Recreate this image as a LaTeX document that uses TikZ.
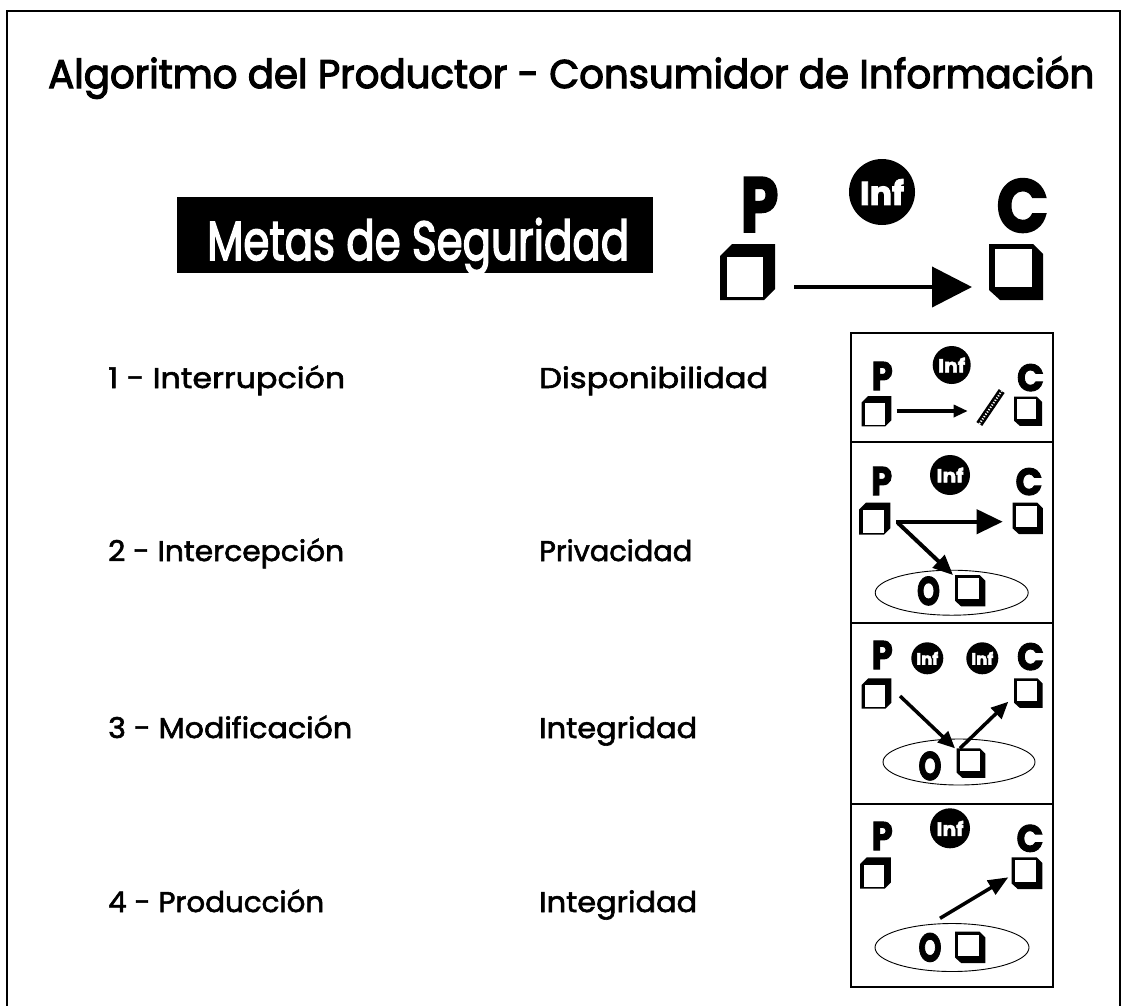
\documentclass[tikz,border=0pt]{standalone}
\usepackage{fontspec}
\setmainfont{Poppins}
\newfontfamily\medfont{Poppins}[FakeBold=3]
\newfontfamily\bookfont{Poppins}[FakeBold=2]
\newfontfamily\heavyfont{Poppins}[FakeBold=2.5]
\usetikzlibrary{arrows.meta,shapes.geometric}
\newcommand{\listfont}{\bookfont\fontsize{28.6}{30}\selectfont}
% list text fitted to a width w
\newcommand{\listtxt}[2]{\resizebox{#1pt}{\height}{\listfont #2}}
% glyph fitted to a box width w at font size s
\newcommand{\glyph}[3]{\resizebox{#1pt}{\height}{\heavyfont\bfseries\fontsize{#2}{#2}\selectfont #3}}
\tikzset{
  pcube/.pic={\fill[black] (0,56)--(0,12)--(12,0)--(55,0)--(55,45)--(44,56)--cycle;
              \fill[white] (7,13) rectangle (43,53);},
  ccube/.pic={\fill[black] (0,0)--(44,0)--(54,10)--(54,56)--(11,56)--(0,46)--cycle;
              \fill[white] (6,5) rectangle (43,43);},
  letter/.style={anchor=base, inner sep=0},
  infbig/.style={circle, fill=black, minimum size=66pt, inner sep=0, text=white},
  infsmall/.style={circle, fill=black, minimum size=#1, inner sep=0, text=white},
  listlabel/.style={anchor=base west, inner sep=0},
  panel/.style={draw=black, line width=1.2pt},
  oval/.style={draw=black, line width=0.9pt},
}
\begin{document}
\begin{tikzpicture}[x=1pt,y=-1pt]
\useasboundingbox (0,0) rectangle (1123,1005);
% outer frame
\draw[line width=1.2pt] (7,1010) -- (7,11) -- (1120,11) -- (1120,1010);
% title
\node[anchor=base west, inner sep=0] (title) at (48,88)
  {\resizebox{1046pt}{\height}{\medfont\fontsize{40}{40}\selectfont Algoritmo del Productor - Consumidor de Información}};
% Metas box
\node[fill=black, minimum width=476pt, minimum height=76pt, inner sep=0] (metasbox) at (415,235) {};
\node[anchor=base west, inner sep=0, text=white] (metas) at (207,260)
  {\resizebox{422pt}{\height}{\medfont\fontsize{55}{56}\selectfont Metas de Seguridad}};
% big P -> C
\node[letter] (P0) at (759.5,232) {\glyph{38}{78}{P}};
\node[letter] (C0) at (1022.5,232) {\glyph{52}{75}{C}};
\node[infbig] (inf0) at (882,192) {\glyph{44}{33}{Inf}};
\pic at (720,244) {pcube};
\pic at (989,244) {ccube};
\coordinate (a0s) at (794,287);
\coordinate (a0e) at (972,287);
\draw[line width=4pt, -{Triangle[length=40pt,width=40pt]}] (a0s) -- (a0e);
% list
\node[listlabel] (l1) at (108,388) {\listtxt{237}{1 - Interrupción}};
\node[listlabel] (r1) at (539,388) {\listtxt{229}{Disponibilidad}};
\node[listlabel] (l2) at (108,561) {\listtxt{236}{2 - Intercepción}};
\node[listlabel] (r2) at (539,561) {\listtxt{153}{Privacidad}};
\node[listlabel] (l3) at (108,738) {\listtxt{244}{3 - Modificación}};
\node[listlabel] (r3) at (539,738) {\listtxt{158}{Integridad}};
\node[listlabel] (l4) at (108,912) {\listtxt{216}{4 - Producción}};
\node[listlabel] (r4) at (539,912) {\listtxt{158}{Integridad}};
% panels
\draw[panel] (851,333) rectangle (1053,987);
\draw[panel] (851,442) -- (1053,442);
\draw[panel] (851,623) -- (1053,623);
\draw[panel] (851,804) -- (1053,804);
% panel 1
\node[letter] (P1) at (882.3,390) {\glyph{21}{40}{P}};
\node[letter] (C1) at (1030.5,391) {\glyph{27}{38}{C}};
\node[infsmall=38pt] (inf1) at (951.7,365) {\glyph{27}{19}{Inf}};
\pic[scale=0.54] at (861.7,396) {pcube};
\pic[scale=0.52] at (1014,396.7) {ccube};
\coordinate (a1s) at (896.7,411);
\coordinate (a1e) at (967.7,411);
\draw[line width=3.2pt, -{Triangle[length=14pt,width=12pt]}] (a1s) -- (a1e);
\coordinate (b1s) at (979.3,424);
\coordinate (b1e) at (1001.7,391);
\draw[line width=7pt] (b1s) -- (b1e);
\draw[white, line width=2pt, dash pattern=on 1.2pt off 1.6pt] (b1s) -- (b1e);
% panel 2
\node[letter] (P2) at (881.7,495) {\glyph{21}{40}{P}};
\node[letter] (C2) at (1029,495) {\glyph{27}{38}{C}};
\node[infsmall=40pt] (inf2) at (950,475) {\glyph{27}{19}{Inf}};
\pic[scale=0.57] at (859,502.7) {pcube};
\pic[scale=0.56] at (1012.7,502.7) {ccube};
\node[oval, ellipse, minimum width=153pt, minimum height=45pt, inner sep=0] (e2) at (951.7,592.7) {};
\node[letter] (o2) at (928.5,605) {\glyph{23}{40}{O}};
\pic[scale=0.56] at (955,575) {ccube};
\coordinate (a2s) at (896,521.7);
\coordinate (a2e) at (1002.7,521.7);
\draw[line width=4pt, -{Triangle[length=26pt,width=24pt]}] (a2s) -- (a2e);
\coordinate (d2s) at (898,523);
\coordinate (d2e) at (953,575);
\draw[line width=4pt, -{Triangle[length=20pt,width=17pt]}] (d2s) -- (d2e);
% panel 3
\node[letter] (P3) at (882.3,669) {\glyph{21}{40}{P}};
\node[letter] (C3) at (1030.5,670) {\glyph{27}{38}{C}};
\node[infsmall=32pt] (inf3a) at (927.3,658.3) {\glyph{22}{16.5}{Inf}};
\node[infsmall=32pt] (inf3b) at (982.3,658.3) {\glyph{22}{16.5}{Inf}};
\pic[scale=0.54] at (861.7,678.3) {pcube};
\pic[scale=0.53] at (1014,678.3) {ccube};
\node[oval, ellipse, minimum width=152pt, minimum height=46pt, inner sep=0] (e3) at (959,762) {};
\node[letter] (o3) at (930,780) {\glyph{23}{40}{O}};
\pic[scale=0.53] at (956.7,748.3) {ccube};
\coordinate (a3s) at (900,696);
\coordinate (a3e) at (955,748.3);
\draw[line width=3.5pt, -{Triangle[length=17pt,width=15pt]}] (a3s) -- (a3e);
\coordinate (c3s) at (960,748.3);
\coordinate (c3e) at (1008.3,701.7);
\draw[line width=3.5pt, -{Triangle[length=17pt,width=15pt]}] (c3s) -- (c3e);
% panel 4
\node[letter] (P4) at (882.3,850) {\glyph{21}{40}{P}};
\node[letter] (C4) at (1030,851.7) {\glyph{27}{38}{C}};
\node[infsmall=40pt] (inf4) at (950,828.3) {\glyph{27}{19}{Inf}};
\pic[scale=0.56] at (860,857.3) {pcube};
\pic[scale=0.57] at (1011.7,857.3) {ccube};
\node[oval, ellipse, minimum width=154pt, minimum height=48pt, inner sep=0] (e4) at (952,947.5) {};
\node[letter] (o4) at (930,961.5) {\glyph{23}{40}{O}};
\pic[scale=0.56] at (955,931.7) {ccube};
\coordinate (a4s) at (940,918.3);
\coordinate (a4e) at (1008.3,877.3);
\draw[line width=3.5pt, -{Triangle[length=20pt,width=16pt]}] (a4s) -- (a4e);
\end{tikzpicture}
\end{document}
